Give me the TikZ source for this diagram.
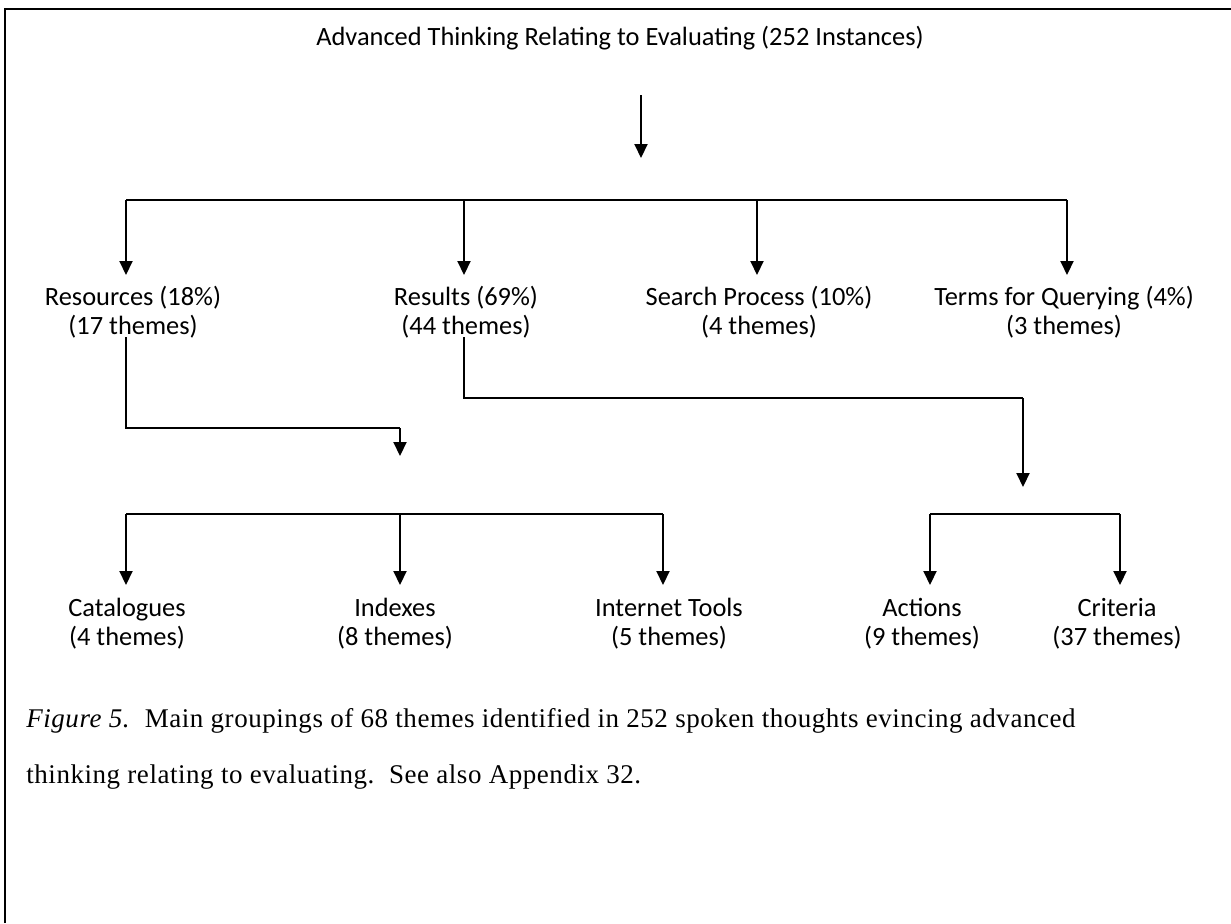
\documentclass[tikz,border=0pt]{standalone}
\usepackage{fontspec}
\setmainfont{Carlito}
\newfontfamily\captionfont[LetterSpace=2]{Liberation Serif}
\usetikzlibrary{arrows.meta,
                positioning}
\tikzset{theme/.style =
   {align=center,
    inner sep=0pt,
    font=\fontsize{13.2}{14.5}\selectfont}}
\tikzset{caption/.style =
   {anchor=west,
    inner sep=0pt,
    font=\captionfont\fontsize{13.5}{14}\selectfont}}
\tikzset{link/.style = {draw, line width=1pt}}
\tikzset{arrow/.style = {draw, line width=1pt, -{Triangle[width=6.5pt,length=7pt]}}}

\begin{document}
\begin{tikzpicture}[x=0.5pt, y=-0.5pt]
    \useasboundingbox (0,0) rectangle (1231,923);
    \draw[line width=1.3pt] (5,923) |- (1231,9);

    \node [theme] (top) at (620,38)
    {Advanced Thinking Relating to Evaluating (252 Instances)};

    % first level
    \node [theme, anchor=north] (res)   at (133,286) {Resources (18\%)\\(17 themes)};
    \node [theme, anchor=north] (rslt)  at (466,286) {Results (69\%)\\(44 themes)};
    \node [theme, anchor=north] (srch)  at (759,286) {Search Process (10\%)\\(4 themes)};
    \node [theme, anchor=north] (terms) at (1064,286) {Terms for Querying (4\%)\\(3 themes)};

    % second level
    \node [theme, anchor=north] (cat)   at (127,598) {Catalogues\\(4 themes)};
    \node [theme, anchor=north] (idx)   at (395,598) {Indexes\\(8 themes)};
    \node [theme, anchor=north] (inet)  at (669,598) {Internet Tools\\(5 themes)};
    \node [theme, anchor=north] (act)   at (922,598) {Actions\\(9 themes)};
    \node [theme, anchor=north] (crit)  at (1117,598) {Criteria\\(37 themes)};

    \node [caption] (cap1) at (26,721)
    {\textit{Figure 5.}\ \ Main groupings of 68 themes identified in 252 spoken thoughts evincing advanced};
    \node [caption] (cap2) at (26,777)
    {thinking relating to evaluating.\ \ See also Appendix 32.};

    % top arrow and bar
    \coordinate (t1) at (641,95);
    \coordinate (t2) at (641,158);
    \draw[arrow] (t1) -- (t2);

    \coordinate (s1) at (126,200);
    \coordinate (s2) at (464,200);
    \coordinate (s3) at (757,200);
    \coordinate (s4) at (1067,200);
    \draw[link] (s1) -- (s4);
    \foreach \s/\n in {s1/res, s2/rslt, s3/srch, s4/terms}
        \draw[arrow, shorten >=5.5pt] (\s) -- (\s |- \n.north);

    % resources branch
    \coordinate (r1) at (126,337);
    \coordinate (r2) at (400,428);
    \coordinate (r3) at (400,456);
    \draw[link] (r1) |- (r2);
    \draw[arrow] (r2) -- (r3);

    \coordinate (u1) at (126,514);
    \coordinate (u2) at (400,514);
    \coordinate (u3) at (663,514);
    \draw[link] (u1) -- (u3);
    \foreach \s/\n in {u1/cat, u2/idx, u3/inet}
        \draw[arrow, shorten >=6.5pt] (\s) -- (\s |- \n.north);

    % results branch
    \coordinate (q1) at (464,337);
    \coordinate (q2) at (1023,398);
    \coordinate (q3) at (1023,487);
    \draw[link] (q1) |- (q2);
    \draw[arrow] (q2) -- (q3);

    \coordinate (v1) at (930,514);
    \coordinate (v2) at (1120,514);
    \draw[link] (v1) -- (v2);
    \foreach \s/\n in {v1/act, v2/crit}
        \draw[arrow, shorten >=6.5pt] (\s) -- (\s |- \n.north);

\end{tikzpicture}
\end{document}
